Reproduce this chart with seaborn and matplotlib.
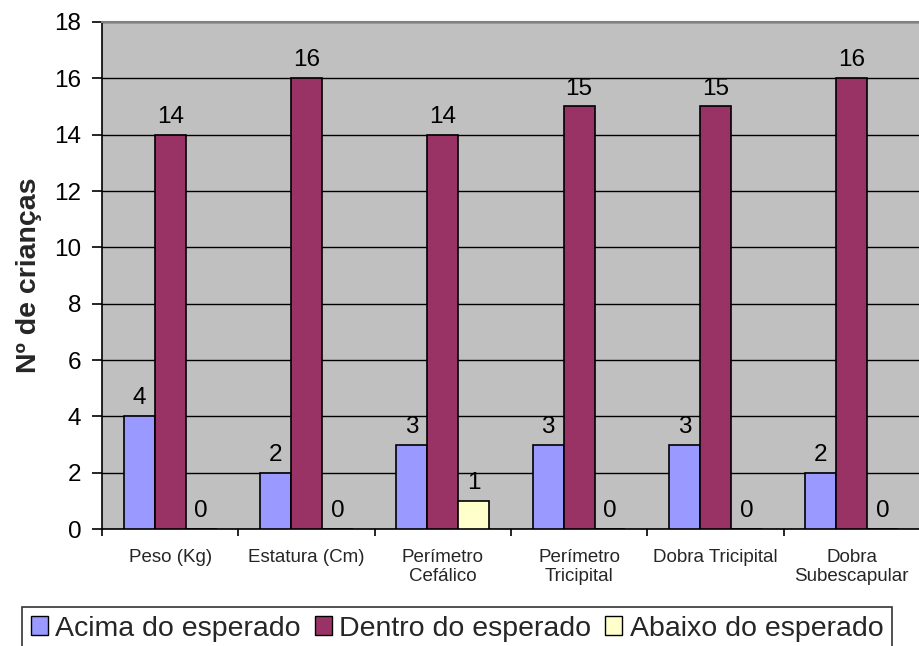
import numpy as np
import pandas as pd
import matplotlib
matplotlib.use("Agg")
import matplotlib.pyplot as plt
import seaborn as sns

categories = ["Peso (Kg)", "Estatura (Cm)", "Perímetro\nCefálico",
              "Perímetro\nTricipital", "Dobra Tricipital", "Dobra\nSubescapular"]
acima = [4, 2, 3, 3, 3, 2]
dentro = [14, 16, 14, 15, 15, 16]
abaixo = [0, 0, 1, 0, 0, 0]
series = ["Acima do esperado", "Dentro do esperado", "Abaixo do esperado"]
colors = ["#9999FF", "#993366", "#FFFFCC"]

rows = []
for name, vals in zip(series, [acima, dentro, abaixo]):
    for cat, v in zip(categories, vals):
        rows.append({"cat": cat, "serie": name, "n": v})
df = pd.DataFrame(rows)

sns.set_theme(style="white")
plt.rcParams["font.family"] = ["Liberation Sans", "DejaVu Sans"]

fig = plt.figure(figsize=(9.2, 6.46), dpi=100)
ax = fig.add_axes([0.1109, 0.181, 0.889, 0.785])
ax.set_facecolor("#C0C0C0")

sns.barplot(data=df, x="cat", y="n", hue="serie", order=categories,
            hue_order=series, palette=colors, width=0.68, saturation=1,
            edgecolor="black", linewidth=1.2, ax=ax, zorder=3, legend=False)

for cont in ax.containers:
    ax.bar_label(cont, fmt="%d", padding=5, fontsize=17.5, color="black")

ax.set_ylim(0, 18)
ax.set_xlim(-0.5, len(categories) - 0.5)
ax.set_yticks(range(0, 19, 2))
ax.yaxis.grid(True, color="black", linewidth=1.0, zorder=0)
ax.set_axisbelow(True)
ax.tick_params(axis="y", labelsize=17.5, length=7, width=1.2, direction="out",
               left=True, colors="black", pad=8)
ax.tick_params(axis="x", which="major", length=0, labelsize=13.5, pad=14)
ax.set_xticks(np.arange(-0.5, len(categories), 1.0), minor=True)
ax.tick_params(axis="x", which="minor", length=5, width=1.2, bottom=True,
               direction="out", color="black")
ax.set_xlabel("")
ax.set_ylabel("Nº de crianças", fontsize=20.5, fontweight="bold")
ax.yaxis.set_label_coords(-0.073, 0.5)

for s in ["left", "bottom"]:
    ax.spines[s].set_color("black")
    ax.spines[s].set_linewidth(1.2)
ax.spines["top"].set_color("#808080")
ax.spines["top"].set_linewidth(1.5)
ax.spines["right"].set_visible(False)

handles = [plt.Rectangle((0, 0), 1, 1, facecolor=c, edgecolor="black", linewidth=1)
           for c in colors]
leg = fig.legend(handles, series, loc="upper center", ncol=3,
                 bbox_to_anchor=(457 / 920, 1 - 607 / 646), fontsize=20.5,
                 frameon=True, fancybox=False, edgecolor="black",
                 handlelength=0.6, handleheight=0.6, handletextpad=0.25,
                 columnspacing=0.5, borderpad=0.3, borderaxespad=0)
leg.get_frame().set_linewidth(1.2)

fig.savefig("out.png", dpi=100)
